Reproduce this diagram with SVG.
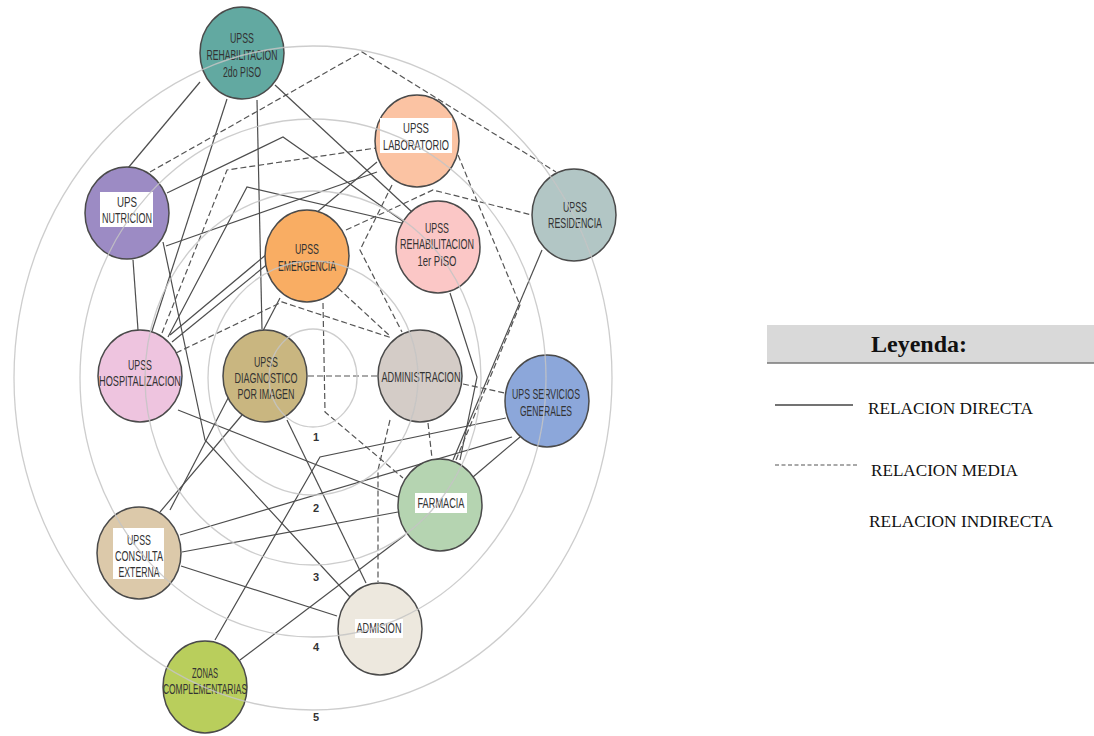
<svg xmlns="http://www.w3.org/2000/svg" width="1094" height="736" viewBox="0 0 1094 736">
<style>
.ring{fill:none;stroke:#c4c4c4;stroke-width:1.3;opacity:.85}
.s{fill:none;stroke:#4d4d4d;stroke-width:1.2}
.d{fill:none;stroke:#555;stroke-width:1.2;stroke-dasharray:6 3}
.n{stroke:#4a4a4a;stroke-width:1.5}
.t{font-family:"Liberation Sans Narrow","Liberation Sans",Arial,sans-serif;font-size:14.5px;fill:#333;text-anchor:middle}
.box{fill:#fff}
.num{font-family:"Liberation Sans",Arial,sans-serif;font-size:11px;font-weight:bold;fill:#333;text-anchor:middle}
.lg{font-family:"Liberation Serif","Times New Roman",serif;font-size:16px;fill:#111}
</style>
<rect width="1094" height="736" fill="#fff"/>
<g id="connectors">
<path class="s" d="M200,82 L128,168"/>
<path class="s" d="M227,99 L152,331"/>
<path class="s" d="M257,100 L262,329"/>
<path class="s" d="M275,85 L412,212"/>
<path class="s" d="M167,193 L283,137 L404,222"/>
<path class="s" d="M133,260 L138,330"/>
<path class="s" d="M163,242 L205,440 L350,597"/>
<path class="s" d="M168,337 L247,187 L406,224"/>
<path class="s" d="M170,335 L377,162"/>
<path class="s" d="M270,262 L172,342"/>
<path class="s" d="M377,172 L166,246"/>
<path class="s" d="M178,410 L398,497"/>
<path class="s" d="M242,415 L160,512"/>
<path class="s" d="M287,420 L366,583"/>
<path class="s" d="M280,298 L170,510"/>
<path class="s" d="M181,566 L337,616"/>
<path class="s" d="M182,552 L398,512"/>
<path class="s" d="M180,535 L512,437"/>
<path class="s" d="M215,640 L320,457 L506,418"/>
<path class="s" d="M240,660 L405,535"/>
<path class="s" d="M520,437 L473,477"/>
<path class="s" d="M542,250 L453,460"/>
<path class="s" d="M450,293 L477,377 L460,460"/>
<path class="d" d="M150,172 L362,52 L556,172"/>
<path class="d" d="M162,333 L227,170 L376,148"/>
<path class="d" d="M176,353 L282,302 L392,338"/>
<path class="d" d="M392,185 L360,250 L402,332"/>
<path class="d" d="M458,155 L520,305 L456,460"/>
<path class="d" d="M346,230 L433,190 L532,215"/>
<path class="d" d="M338,288 L390,336"/>
<path class="d" d="M323,303 L325,412 L403,478"/>
<path class="d" d="M308,376 L378,376"/>
<path class="d" d="M463,384 L505,393"/>
<path class="d" d="M428,423 L432,458"/>
<path class="d" d="M390,420 L378,470 L378,582"/>
</g>
<g id="n-rehab2"><ellipse class="n" cx="242" cy="53" rx="42" ry="46" fill="#62a9a1"/>
<text class="t" x="242" y="43" textLength="24" lengthAdjust="spacingAndGlyphs">UPSS</text>
<text class="t" x="242" y="60" textLength="71" lengthAdjust="spacingAndGlyphs">REHABILITACION</text>
<text class="t" x="242" y="77" textLength="38" lengthAdjust="spacingAndGlyphs">2do PISO</text></g>
<g id="n-nutricion"><ellipse class="n" cx="127" cy="213" rx="42" ry="46" fill="#9c8bc4"/>
<rect class="box" x="100" y="192" width="53" height="35"/>
<text class="t" x="127" y="207" textLength="20" lengthAdjust="spacingAndGlyphs">UPS</text>
<text class="t" x="127" y="223" textLength="50" lengthAdjust="spacingAndGlyphs">NUTRICION</text></g>
<g id="n-laboratorio"><ellipse class="n" cx="417" cy="141" rx="42" ry="46" fill="#fbc3a3"/>
<rect class="box" x="380" y="118" width="72" height="35"/>
<text class="t" x="416" y="133" textLength="26" lengthAdjust="spacingAndGlyphs">UPSS</text>
<text class="t" x="416" y="150" textLength="66" lengthAdjust="spacingAndGlyphs">LABORATORIO</text></g>
<g id="n-residencia"><ellipse class="n" cx="574" cy="215" rx="42" ry="46" fill="#b2c6c5"/>
<text class="t" x="575" y="212" textLength="24" lengthAdjust="spacingAndGlyphs">UPSS</text>
<text class="t" x="575" y="228" textLength="54" lengthAdjust="spacingAndGlyphs">RESIDENCIA</text></g>
<g id="n-rehab1"><ellipse class="n" cx="438" cy="247" rx="42" ry="46" fill="#fbc7c6"/>
<text class="t" x="437" y="233" textLength="24" lengthAdjust="spacingAndGlyphs">UPSS</text>
<text class="t" x="437" y="249" textLength="74" lengthAdjust="spacingAndGlyphs">REHABILITACION</text>
<text class="t" x="437" y="266" textLength="39" lengthAdjust="spacingAndGlyphs">1er PISO</text></g>
<g id="n-emergencia"><ellipse class="n" cx="307" cy="256" rx="42" ry="46" fill="#f9ad63"/>
<text class="t" x="307" y="254" textLength="24" lengthAdjust="spacingAndGlyphs">UPSS</text>
<text class="t" x="307" y="271" textLength="58" lengthAdjust="spacingAndGlyphs">EMERGENCIA</text></g>
<g id="n-hospitalizacion"><ellipse class="n" cx="140" cy="376" rx="42" ry="46" fill="#eec4df"/>
<text class="t" x="140" y="370" textLength="24" lengthAdjust="spacingAndGlyphs">UPSS</text>
<text class="t" x="140" y="386" textLength="82" lengthAdjust="spacingAndGlyphs">HOSPITALIZACION</text></g>
<g id="n-diagnostico"><ellipse class="n" cx="265" cy="376" rx="42" ry="46" fill="#c9b680"/>
<text class="t" x="266" y="367" textLength="24" lengthAdjust="spacingAndGlyphs">UPSS</text>
<text class="t" x="266" y="383" textLength="63" lengthAdjust="spacingAndGlyphs">DIAGNOSTICO</text>
<text class="t" x="266" y="399" textLength="57" lengthAdjust="spacingAndGlyphs">POR IMAGEN</text></g>
<g id="n-administracion"><ellipse class="n" cx="420" cy="376" rx="42" ry="46" fill="#d4ccc7"/>
<text class="t" x="421" y="382" textLength="79" lengthAdjust="spacingAndGlyphs">ADMINISTRACION</text></g>
<g id="n-servicios"><ellipse class="n" cx="547" cy="401" rx="42" ry="46" fill="#8ca7da"/>
<text class="t" x="546" y="399" textLength="68" lengthAdjust="spacingAndGlyphs">UPS SERVICIOS</text>
<text class="t" x="546" y="416" textLength="52" lengthAdjust="spacingAndGlyphs">GENERALES</text></g>
<g id="n-farmacia"><ellipse class="n" cx="440" cy="505" rx="42" ry="46" fill="#b5d4b1"/>
<rect class="box" x="415" y="493" width="52" height="20"/>
<text class="t" x="441" y="508" textLength="47" lengthAdjust="spacingAndGlyphs">FARMACIA</text></g>
<g id="n-consulta"><ellipse class="n" cx="139" cy="553" rx="42" ry="46" fill="#dcc9aa"/>
<rect class="box" x="113" y="528" width="51" height="51"/>
<text class="t" x="139" y="545" textLength="24" lengthAdjust="spacingAndGlyphs">UPSS</text>
<text class="t" x="139" y="561" textLength="48" lengthAdjust="spacingAndGlyphs">CONSULTA</text>
<text class="t" x="139" y="577" textLength="41" lengthAdjust="spacingAndGlyphs">EXTERNA</text></g>
<g id="n-admision"><ellipse class="n" cx="380" cy="629" rx="42" ry="46" fill="#ede8de"/>
<rect class="box" x="355" y="619" width="48" height="19"/>
<text class="t" x="379" y="633" textLength="45" lengthAdjust="spacingAndGlyphs">ADMISION</text></g>
<g id="n-zonas"><ellipse class="n" cx="205" cy="687" rx="42" ry="46" fill="#b9ce5c"/>
<text class="t" x="205" y="678" textLength="26" lengthAdjust="spacingAndGlyphs">ZONAS</text>
<text class="t" x="205" y="694" textLength="84" lengthAdjust="spacingAndGlyphs">COMPLEMENTARIAS</text></g>
<g id="rings">
<ellipse class="ring" cx="313" cy="378" rx="44" ry="49"/>
<ellipse class="ring" cx="313" cy="378" rx="105" ry="117"/>
<ellipse class="ring" cx="313" cy="378" rx="168" ry="187"/>
<ellipse class="ring" cx="313" cy="378" rx="233" ry="259"/>
<ellipse class="ring" cx="313" cy="378" rx="299" ry="332"/>
<text class="num" x="316" y="441">1</text>
<text class="num" x="316" y="512">2</text>
<text class="num" x="316" y="581">3</text>
<text class="num" x="316" y="651">4</text>
<text class="num" x="316" y="721">5</text>
</g>
<g id="legend">
<rect x="767" y="325" width="327" height="38" fill="#d9d9d9"/>
<line x1="767" y1="363" x2="1094" y2="363" stroke="#777" stroke-width="1.5"/>
<text x="919" y="352" font-family="Liberation Serif,'Times New Roman',serif" font-size="24" font-weight="bold" fill="#111" text-anchor="middle">Leyenda:</text>
<line x1="775" y1="405" x2="853" y2="405" stroke="#444" stroke-width="1.3"/>
<text class="lg" x="868" y="414" textLength="165" lengthAdjust="spacingAndGlyphs">RELACION DIRECTA</text>
<line x1="775" y1="465" x2="857" y2="465" stroke="#555" stroke-width="1.2" stroke-dasharray="4 2.5"/>
<text class="lg" x="871" y="476" textLength="147" lengthAdjust="spacingAndGlyphs">RELACION MEDIA</text>
<text class="lg" x="869" y="527" textLength="184" lengthAdjust="spacingAndGlyphs">RELACION INDIRECTA</text>
</g>
</svg>
